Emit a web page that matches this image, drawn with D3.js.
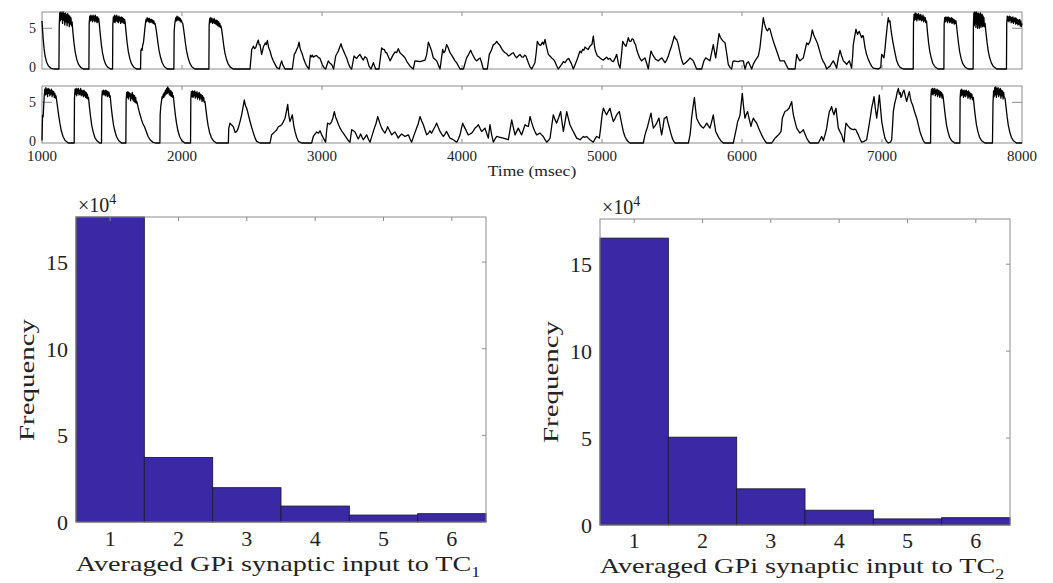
<!DOCTYPE html>
<html><head><meta charset="utf-8">
<script src="https://cdn.jsdelivr.net/npm/d3@7/dist/d3.min.js"></script>
<style>body{margin:0;background:#fff}svg{display:block}text{font-family:"Liberation Serif","Times New Roman",serif;fill:#222}</style>
</head><body><svg id="c" width="1053" height="583"></svg>
<script>
// ---- data ----
const timeTicks = [1000,2000,3000,4000,5000,6000,7000,8000];
const traceYTicks = [0,5];
const TRACE1 = [[1000,5.9],[1004,4.8],[1009,3.6],[1015,2.5],[1022,1.6],[1032,0.9],[1045,0.4],[1062,0.12],[1085,0],
[1121,0],[1123,5.4],[1127,6.9],[1131,5.9],[1135,7.0],[1139,6.1],[1143,6.9],[1147,5.6],[1151,7.0],[1155,6.0],[1159,6.8],[1163,5.4],[1167,6.9],[1171,5.8],[1175,6.7],[1179,5.3],[1183,6.8],[1187,5.7],[1191,6.6],[1195,5.2],[1199,6.5],[1203,5.5],[1207,6.3],[1211,5.3],[1215,5.8],
[1222,4.3],[1230,3.0],[1238,2.0],[1248,1.2],[1260,0.6],[1275,0.22],[1295,0],
[1335,0],[1337,5.6],[1341,6.5],[1345,5.9],[1349,6.6],[1353,6.0],[1357,6.5],[1361,5.8],[1365,6.6],[1369,6.0],[1373,6.5],[1377,5.8],[1381,6.6],[1385,5.9],[1389,6.4],[1393,5.7],[1397,6.4],[1401,5.8],[1405,6.2],[1409,5.6],
[1416,4.3],[1424,3.0],[1432,2.0],[1442,1.2],[1454,0.6],[1469,0.22],[1490,0],
[1504,0],[1506,5.5],[1510,6.4],[1514,5.8],[1518,6.6],[1522,5.7],[1526,6.5],[1530,5.9],[1534,6.6],[1538,5.8],[1542,6.4],[1546,5.7],[1550,6.5],[1554,5.9],[1558,6.3],[1562,5.6],[1566,6.4],[1570,5.8],[1574,6.3],[1578,5.7],[1582,6.2],[1586,5.6],[1590,6.1],[1594,5.7],
[1601,4.4],[1609,3.1],[1617,2.1],[1627,1.3],[1639,0.65],[1654,0.25],[1675,0],
[1704,0],[1706,2.2],[1711,2.5],[1715,2.3],[1719,2.9],[1723,3.1],[1727,3.6],[1731,4.3],[1735,5.0],[1739,5.6],[1743,6.1],[1747,5.8],[1751,6.3],[1755,5.9],[1759,6.2],[1763,5.8],[1767,6.2],[1771,5.7],[1775,6.1],[1779,5.8],[1783,6.1],[1787,5.7],[1791,6.0],[1795,5.6],[1799,5.9],[1803,5.5],[1808,5.6],[1813,5.1],
[1820,4.3],[1828,3.2],[1836,2.3],[1846,1.5],[1858,0.8],[1873,0.3],[1895,0],
[1942,0],[1944,4.6],[1948,5.5],[1952,5.9],[1956,6.3],[1960,5.9],[1964,6.5],[1968,6.0],[1972,6.4],[1976,6.0],[1980,6.3],[1984,5.9],[1988,6.2],[1992,5.8],[1996,6.0],[2000,5.7],[2005,5.6],[2010,5.1],
[2017,4.2],[2025,3.1],[2033,2.2],[2043,1.4],[2055,0.75],[2070,0.28],[2092,0],
[2192,0],[2194,5.4],[2198,6.2],[2202,5.7],[2206,6.3],[2210,5.8],[2214,6.2],[2218,5.6],[2222,6.1],[2226,5.7],[2230,6.2],[2234,5.6],[2238,6.0],[2242,5.5],[2246,6.0],[2250,5.4],[2254,5.9],[2258,5.3],[2262,5.8],[2266,5.2],[2270,5.6],[2274,5.1],[2278,5.3],[2283,4.9],
[2290,4.0],[2298,2.9],[2306,2.0],[2316,1.3],[2328,0.7],[2343,0.26],[2365,0],
[2486,0],[2498,2.4],[2510,2.8],[2518,2.5],[2526,2.6],[2535,3.1],[2545,3.55],[2551,3.0],[2557,3.0],[2569,1.8],[2576,2.3],[2583,2.8],[2595,3.2],[2602,3.0],[2610,3.5],[2619,2.6],[2629,2.2],[2640,1.5],[2652,1.0],[2664,0.6],[2676,0.2],[2695,0],[2704,0.6],[2712,1.0],[2720,0.5],[2736,0],
[2788,0],[2802,1.8],[2810,2.0],[2819,2.4],[2828,2.7],[2836,3.3],[2843,2.6],[2850,2.2],[2858,1.9],[2867,1.36],[2879,0.8],[2891,0.35],[2907,0],
[2917,1.7],[2925,1.5],[2932,1.7],[2938,1.45],[2950,1.6],[2962,1.65],[2975,1.4],[2986,1.3],[3002,0.56],[3015,0.15],[3026,0],
[3045,1.0],[3057,0.7],[3069,0.56],[3083,0],
[3098,1.6],[3110,2.0],[3117,2.2],[3125,2.6],[3136,3.1],[3144,2.6],[3152,2.3],[3164,1.8],[3176,1.36],[3188,0.7],[3200,0.2],[3212,0],
[3229,1.6],[3240,1.4],[3248,1.3],[3260,1.6],[3271,1.8],[3283,1.4],[3295,1.1],[3307,1.5],[3319,1.36],[3336,0.35],[3350,0],[3367,0.77],[3383,0],[3407,0],
[3426,2.6],[3436,2.4],[3445,2.4],[3455,2.0],[3462,2.0],[3474,1.5],[3486,1.0],[3498,1.4],[3510,1.8],[3522,2.1],[3533,2.0],[3545,2.5],[3557,2.0],[3569,1.8],[3581,1.6],[3593,1.36],[3610,0.8],[3629,0.35],[3652,0],
[3664,1.0],[3682,0.95],[3700,0.9],[3718,1.0],[3736,1.1],[3748,1.8],[3760,3.3],[3771,2.8],[3783,2.2],[3795,1.36],[3807,1.2],[3819,1.0],[3831,0.5],[3843,0],
[3862,2.4],[3870,2.0],[3879,2.2],[3890,3.0],[3902,2.6],[3914,2.0],[3926,1.7],[3938,1.36],[3950,1.0],[3962,0.77],[3986,0],[4010,0],
[4033,1.36],[4048,1.8],[4062,2.3],[4072,1.9],[4081,1.6],[4093,1.2],[4105,1.0],[4117,1.2],[4129,1.36],[4140,0.8],[4152,0],[4181,0],
[4195,1.8],[4210,2.3],[4224,3.0],[4236,3.1],[4248,3.4],[4260,3.1],[4271,2.9],[4283,2.5],[4295,2.2],[4307,2.0],[4319,1.9],[4331,1.6],[4343,1.7],[4355,1.9],[4367,2.0],[4379,1.6],[4390,1.36],[4402,1.6],[4414,1.8],[4426,1.5],[4438,1.45],[4448,1.7],[4457,1.6],[4465,1.2],[4474,0.77],[4485,0.3],[4498,0],
[4521,0.77],[4530,2.0],[4538,3.4],[4550,3.0],[4562,2.9],[4575,3.3],[4583,3.0],[4593,3.64],[4605,2.6],[4617,1.8],[4628,1.6],[4640,1.36],[4652,1.2],[4664,0.9],[4676,0.4],[4688,0],
[4700,0.3],[4712,0.56],[4724,0.9],[4736,0.77],[4752,1.18],[4762,1.3],[4771,1.0],[4783,0.6],[4795,0],
[4807,0.5],[4819,1.0],[4831,1.6],[4843,2.2],[4852,2.0],[4862,2.4],[4870,2.3],[4879,2.7],[4890,2.5],[4902,2.4],[4910,2.7],[4919,2.9],[4928,3.0],[4938,4.05],[4945,3.0],[4950,2.4],[4958,2.0],[4967,1.6],[4977,1.5],[4986,1.36],[4998,1.2],[5010,1.1],[5022,1.3],[5033,1.45],[5045,1.2],[5057,1.3],[5069,1.0],[5081,0.9],[5093,1.3],[5105,1.8],[5118,0.6],[5129,0.1],[5138,1.5],[5148,3.4],[5160,3.0],[5171,2.8],[5180,3.3],[5188,3.85],[5197,3.4],[5207,3.4],[5215,3.7],[5224,3.64],[5232,3.2],[5240,3.0],[5249,2.3],[5259,1.8],[5271,1.3],[5283,1.0],[5295,1.2],[5307,1.36],[5319,0.7],[5331,0],
[5340,1.2],[5350,2.2],[5358,1.9],[5367,1.6],[5375,1.4],[5383,1.18],[5392,1.1],[5402,1.0],[5414,1.2],[5426,1.36],[5438,1.1],[5450,0.77],[5462,1.1],[5474,1.6],[5484,2.2],[5493,2.6],[5505,3.3],[5517,4.05],[5525,3.7],[5533,3.64],[5540,3.3],[5545,3.0],[5553,2.3],[5562,1.6],[5571,1.0],[5581,0.56],[5593,0.7],[5605,0.9],[5617,1.1],[5629,1.36],[5640,1.2],[5652,1.0],[5664,0.5],[5676,0],[5712,0],
[5728,1.0],[5741,1.36],[5756,1.2],[5771,1.0],[5783,2.0],[5795,3.0],[5803,2.2],[5812,1.36],[5824,2.8],[5836,4.35],[5845,3.9],[5855,3.64],[5866,3.4],[5879,3.22],[5890,2.0],[5902,0.56],[5914,0.2],[5926,0],
[5935,0.9],[5945,1.0],[5960,0.95],[5974,0.9],[5990,1.0],[6010,1.0],[6016,0.4],[6022,0],[6034,0.7],[6045,0.9],[6057,0.5],[6069,0],[6081,0.6],[6093,1.0],[6105,1.3],[6117,1.6],[6128,2.6],[6136,3.85],[6145,5.2],[6152,6.3],[6160,5.6],[6169,5.1],[6176,4.8],[6183,4.7],[6192,5.0],[6200,4.9],[6212,4.1],[6224,3.4],[6236,2.8],[6248,2.2],[6260,1.6],[6271,1.0],[6285,1.0],[6302,1.0],[6316,0.5],[6331,0],[6379,0],
[6391,1.8],[6403,1.3],[6414,1.0],[6426,1.2],[6438,1.36],[6450,2.3],[6462,3.2],[6474,3.0],[6486,3.4],[6494,4.0],[6502,4.8],[6512,4.2],[6521,3.85],[6530,3.5],[6540,3.1],[6555,2.2],[6569,1.36],[6581,0.9],[6593,0.56],[6605,0],
[6617,0.2],[6629,0.35],[6640,0.7],[6652,1.0],[6664,0.6],[6676,0.1],[6688,1.36],[6700,2.3],[6712,1.6],[6724,1.0],[6736,0.8],[6748,0.56],[6758,0.8],[6767,1.0],[6783,0.1],[6790,1.5],[6795,3.0],[6805,4.0],[6814,4.9],[6820,4.5],[6826,4.26],[6832,4.5],[6838,4.6],[6846,4.2],[6855,3.85],[6861,4.1],[6867,4.05],[6873,3.3],[6879,2.6],[6890,1.8],[6902,1.18],[6915,0.7],[6925,0.35],[6938,0.1],[6974,0],
[6991,0.2],[6995,1.2],[6998,1.8],[7006,1.6],[7014,1.36],[7022,2.6],[7029,3.85],[7037,5.2],[7045,6.3],[7051,5.8],[7057,5.9],[7063,5.0],[7069,4.26],[7077,3.4],[7086,2.6],[7095,1.8],[7105,1.0],[7117,0.5],[7129,0.2],[7152,0],
[7223,0],[7225,5.6],[7229,6.7],[7233,6.0],[7237,6.9],[7241,6.1],[7245,6.8],[7249,5.9],[7253,6.7],[7257,6.2],[7261,6.8],[7265,6.0],[7269,6.6],[7273,6.1],[7277,6.7],[7281,5.9],[7285,6.5],[7289,6.0],[7293,6.6],[7297,5.8],[7301,6.4],[7305,5.9],[7309,6.3],[7313,5.7],[7318,5.9],
[7325,4.5],[7333,3.2],[7341,2.2],[7351,1.4],[7363,0.7],[7378,0.28],[7400,0],
[7442,0],[7444,5.5],[7448,6.3],[7452,5.8],[7456,6.4],[7460,5.9],[7464,6.3],[7468,5.7],[7472,6.4],[7476,5.9],[7480,6.3],[7484,5.7],[7488,6.2],[7492,5.8],[7496,6.3],[7500,5.6],[7504,6.2],[7508,5.7],[7512,6.1],[7516,5.5],[7520,6.0],[7524,5.6],[7528,5.9],[7532,5.4],
[7539,4.3],[7547,3.1],[7555,2.1],[7565,1.3],[7577,0.65],[7592,0.25],[7615,0],
[7651,0],[7653,5.5],[7656,6.9],[7659,5.3],[7662,7.0],[7665,5.6],[7668,6.9],[7671,5.1],[7674,7.0],[7677,5.5],[7680,6.8],[7683,5.0],[7686,6.9],[7689,5.4],[7692,6.8],[7695,5.0],[7698,6.7],[7701,5.3],[7704,6.9],[7707,5.1],[7710,6.6],[7713,5.4],[7716,6.7],[7719,5.2],[7722,6.5],[7725,5.3],[7728,6.3],[7731,5.2],[7736,5.6],
[7743,4.4],[7751,3.2],[7759,2.2],[7769,1.4],[7781,0.75],[7796,0.3],[7820,0],
[7889,0],[7891,5.6],[7895,6.5],[7899,5.9],[7903,6.4],[7907,5.8],[7911,6.5],[7915,6.0],[7919,6.4],[7923,5.7],[7927,6.3],[7931,5.8],[7935,6.4],[7939,5.6],[7943,6.2],[7947,5.8],[7951,6.3],[7955,5.5],[7959,6.2],[7963,5.6],[7967,6.1],[7971,5.4],[7975,6.0],[7979,5.5],[7983,6.1],[7987,5.3],[7991,5.9],[7995,5.2],[8000,5.6]];
const TRACE2 = [[1000,0.3],[1002,2.0],[1004,3.4],[1008,3.2],[1012,4.5],[1016,5.8],[1020,6.6],[1024,5.9],[1028,6.8],[1032,6.0],[1036,6.6],[1040,5.7],[1044,6.7],[1048,6.1],[1052,6.6],[1056,5.8],[1060,6.5],[1064,6.0],[1068,6.6],[1072,5.7],[1076,6.4],[1080,5.9],[1084,6.3],[1088,5.6],[1092,6.1],[1096,5.5],[1100,5.8],[1105,5.2],
[1112,4.3],[1120,3.3],[1128,2.4],[1138,1.5],[1150,0.8],[1165,0.3],[1188,0],
[1230,0],[1232,5.5],[1236,6.6],[1240,6.0],[1244,6.7],[1248,5.8],[1252,6.6],[1256,6.1],[1260,6.7],[1264,5.9],[1268,6.5],[1272,6.0],[1276,6.7],[1280,5.8],[1284,6.5],[1288,5.9],[1292,6.4],[1296,5.7],[1300,6.5],[1304,5.8],[1308,6.3],[1312,5.6],[1316,6.2],[1320,5.5],[1324,6.0],[1328,5.4],[1332,5.6],
[1339,4.4],[1347,3.2],[1355,2.2],[1365,1.4],[1377,0.7],[1392,0.28],[1412,0],
[1425,0],[1427,5.5],[1431,6.4],[1435,5.9],[1439,6.5],[1443,6.0],[1447,6.4],[1451,5.8],[1455,6.5],[1459,5.9],[1463,6.4],[1467,5.7],[1471,6.3],[1475,5.8],[1479,6.2],[1483,5.6],[1487,5.8],
[1494,4.5],[1502,3.3],[1510,2.3],[1520,1.5],[1532,0.8],[1547,0.3],[1568,0],
[1599,0],[1601,5.3],[1605,6.2],[1609,5.6],[1613,6.3],[1617,5.4],[1621,6.2],[1625,5.7],[1629,6.1],[1633,5.2],[1637,6.0],[1641,5.5],[1645,6.2],[1649,5.3],[1653,5.9],[1657,5.1],[1661,5.8],[1665,5.0],[1669,5.6],[1673,4.9],[1677,5.1],
[1684,4.6],[1692,4.0],[1700,3.5],[1710,2.9],[1720,2.4],[1732,2.0],[1745,1.4],[1758,0.8],[1772,0.4],[1790,0.12],[1810,0],
[1842,0],[1844,3.5],[1849,4.6],[1854,5.2],[1858,5.7],[1862,5.5],[1866,6.0],[1870,5.6],[1874,6.2],[1878,5.8],[1882,6.5],[1886,6.0],[1890,6.7],[1894,6.1],[1898,6.9],[1902,6.2],[1906,6.7],[1910,5.9],[1914,6.5],[1918,5.8],[1922,6.4],[1926,5.7],[1930,6.2],[1934,5.6],[1938,5.8],
[1945,4.6],[1953,3.4],[1961,2.4],[1971,1.5],[1983,0.8],[1998,0.3],[2020,0],
[2061,0],[2063,5.4],[2067,6.3],[2071,5.7],[2075,6.4],[2079,5.6],[2083,6.3],[2087,5.8],[2091,6.4],[2095,5.5],[2099,6.2],[2103,5.7],[2107,6.3],[2111,5.4],[2115,6.1],[2119,5.6],[2123,6.2],[2127,5.3],[2131,6.0],[2135,5.5],[2139,5.9],[2143,5.1],[2147,5.8],[2151,5.2],[2155,5.6],[2159,5.0],[2164,5.1],
[2171,4.1],[2179,3.0],[2187,2.1],[2197,1.3],[2209,0.7],[2224,0.28],[2245,0],
[2331,0],[2334,1.8],[2343,2.44],[2355,2.2],[2367,2.0],[2379,1.3],[2390,1.4],[2402,1.83],[2414,2.6],[2426,3.46],[2436,4.4],[2445,5.28],[2453,4.6],[2462,4.27],[2468,3.9],[2474,3.46],[2486,2.64],[2498,1.9],[2510,1.22],[2522,0.6],[2533,0.2],[2557,0],[2629,0],
[2640,1.0],[2652,1.2],[2664,1.4],[2676,1.6],[2688,2.0],[2700,2.1],[2712,2.24],[2724,2.6],[2736,3.05],[2745,3.8],[2755,4.75],[2763,3.4],[2771,2.64],[2779,3.0],[2788,3.46],[2797,2.3],[2807,1.42],[2819,0.7],[2831,0.2],[2855,0],[2926,0],
[2938,0.8],[2950,1.1],[2962,1.35],[2974,1.2],[2986,1.5],[2998,1.0],[3010,0.6],[3026,0.1],[3033,1.5],[3040,2.44],[3055,2.3],[3069,2.64],[3078,3.1],[3088,3.86],[3097,3.2],[3105,2.85],[3117,2.3],[3129,1.83],[3140,1.5],[3152,1.22],[3164,0.9],[3176,0.6],[3188,0.3],[3200,0.1],
[3212,1.63],[3224,1.5],[3236,1.35],[3248,0.9],[3259,0.5],[3268,0.8],[3276,1.1],[3286,0.7],[3295,0.4],[3307,0.7],[3319,1.0],[3331,0.5],[3343,0.1],[3359,1.0],[3374,1.83],[3386,2.4],[3398,3.25],[3412,2.5],[3426,1.83],[3438,1.5],[3450,1.22],[3460,1.6],[3469,2.0],[3483,1.5],[3498,1.0],[3510,1.2],[3521,1.35],[3533,1.0],[3545,0.6],[3557,0.9],[3569,1.1],[3581,0.95],[3593,0.8],[3605,0.9],[3617,1.0],[3629,0.5],[3640,0.1],[3658,1.0],[3676,1.83],[3688,2.4],[3700,3.25],[3712,2.7],[3724,2.24],[3736,1.6],[3748,1.0],[3760,1.2],[3771,1.5],[3783,1.2],[3795,1.63],[3807,2.0],[3819,2.44],[3831,1.9],[3843,1.42],[3855,1.1],[3867,0.8],[3879,1.1],[3890,1.42],[3902,1.0],[3914,0.6],[3926,0.5],[3938,0.4],[3950,0.25],[3962,0.1],[3974,0.5],[3986,1.0],[3996,1.8],[4005,2.44],[4013,2.1],[4021,1.83],[4033,1.4],[4045,1.0],[4057,1.1],[4069,1.22],[4081,1.5],[4093,1.83],[4105,2.0],[4117,2.24],[4129,1.8],[4140,1.42],[4152,1.6],[4164,1.83],[4176,1.2],[4188,0.6],[4194,1.5],[4200,2.24],[4212,1.0],[4224,0.1],[4236,0.5],[4248,0.8],[4272,0.7],[4295,0.6],[4313,0.5],[4331,0.4],[4343,1.6],[4355,2.85],[4367,1.9],[4379,1.0],[4390,1.4],[4402,1.83],[4414,1.4],[4426,1.0],[4438,1.6],[4450,2.24],[4462,2.1],[4474,2.03],[4480,2.6],[4486,3.25],[4498,2.5],[4510,1.83],[4521,1.4],[4533,1.0],[4545,1.1],[4557,1.22],[4569,1.0],[4581,0.8],[4593,0.4],[4605,0.1],[4617,0.3],[4629,0.6],[4640,2.0],[4652,3.46],[4664,2.9],[4676,2.44],[4690,3.1],[4705,3.86],[4714,2.6],[4724,1.42],[4736,2.6],[4748,3.86],[4760,3.0],[4771,2.24],[4783,1.8],[4795,1.42],[4807,1.0],[4819,0.6],[4831,0.5],[4843,0.4],[4855,0.6],[4867,0.8],[4879,0.7],[4890,0.8],[4902,0.6],[4914,0.4],[4926,0.25],[4938,0.1],[4950,0.5],[4962,0.8],[4972,0.7],[4981,0.6],[4990,1.8],[4998,3.05],[5004,3.8],[5010,4.27],[5022,3.8],[5033,3.46],[5045,3.9],[5057,4.27],[5069,3.4],[5081,2.64],[5093,3.0],[5105,3.46],[5115,3.7],[5124,3.86],[5138,2.6],[5152,1.42],[5164,0.8],[5176,0.4],[5188,0.15],[5200,0],[5295,0],
[5307,1.0],[5316,1.5],[5326,2.03],[5338,2.9],[5350,3.66],[5358,2.7],[5367,1.83],[5379,2.1],[5391,2.44],[5399,2.8],[5407,3.05],[5416,2.0],[5426,1.0],[5436,2.0],[5445,3.05],[5454,3.1],[5462,3.25],[5470,2.6],[5479,2.03],[5490,1.3],[5502,0.6],[5511,0.25],[5521,0],[5617,0],
[5629,1.0],[5635,2.0],[5640,3.05],[5650,4.4],[5660,5.57],[5668,4.2],[5676,3.05],[5688,2.6],[5700,2.24],[5712,2.0],[5724,1.83],[5736,2.1],[5748,2.44],[5760,2.1],[5771,1.83],[5783,2.6],[5795,3.46],[5803,2.4],[5812,1.42],[5824,1.0],[5836,0.6],[5850,0.25],[5867,0],[5938,0],
[5950,1.0],[5960,1.8],[5969,2.64],[5978,3.0],[5986,3.46],[5994,4.8],[6002,6.1],[6011,4.5],[6021,3.05],[6030,3.5],[6040,3.86],[6052,2.9],[6064,2.03],[6072,2.6],[6081,3.05],[6093,2.7],[6105,2.44],[6117,1.9],[6129,1.42],[6140,1.0],[6152,0.6],[6164,0.25],[6176,0],[6212,0],
[6224,0.3],[6236,0.6],[6248,0.8],[6260,1.0],[6270,1.2],[6279,1.42],[6284,2.3],[6288,3.05],[6298,3.5],[6307,3.86],[6320,4.0],[6336,4.27],[6346,4.7],[6355,5.08],[6361,4.2],[6367,3.46],[6379,2.6],[6391,1.83],[6403,1.5],[6414,1.22],[6426,1.4],[6438,1.63],[6450,1.1],[6462,0.6],[6474,0.25],[6486,0],[6545,0],
[6557,0.4],[6569,0.8],[6581,0.3],[6593,1.0],[6605,1.83],[6614,2.9],[6624,3.86],[6632,4.1],[6640,4.47],[6648,3.9],[6657,3.46],[6664,3.9],[6671,4.27],[6680,3.0],[6688,1.83],[6700,1.4],[6712,1.0],[6720,0.5],[6729,0.1],[6736,1.5],[6743,2.44],[6757,2.1],[6771,1.83],[6783,1.7],[6795,1.63],[6805,1.7],[6814,1.63],[6822,1.3],[6831,1.0],[6843,0.5],[6855,0.1],[6872,0.2],[6890,0.4],[6900,1.4],[6910,2.44],[6918,3.3],[6926,4.27],[6935,5.0],[6943,5.69],[6952,4.3],[6962,3.05],[6972,4.4],[6981,5.89],[6990,4.2],[6998,2.64],[7010,1.5],[7021,0.6],[7033,0.2],[7045,0],
[7060,0.1],[7069,0.4],[7075,2.0],[7081,3.86],[7090,4.8],[7100,5.49],[7108,6.2],[7117,6.71],[7124,6.0],[7130,6.2],[7135,5.6],[7140,5.69],[7148,6.2],[7157,6.5],[7166,5.8],[7176,5.08],[7185,5.7],[7195,6.3],[7202,5.6],[7210,5.0],[7219,4.67],[7233,3.8],[7248,3.05],[7260,2.2],[7271,1.42],[7283,0.8],[7295,0.3],[7307,0],
[7347,0],[7349,5.6],[7353,6.6],[7357,6.0],[7361,6.7],[7365,5.9],[7369,6.6],[7373,6.1],[7377,6.7],[7381,5.8],[7385,6.5],[7389,6.0],[7393,6.6],[7397,5.7],[7401,6.5],[7405,5.9],[7409,6.4],[7413,5.6],[7417,6.3],[7421,5.8],[7425,6.2],[7429,5.5],[7433,6.0],[7438,5.5],
[7445,4.4],[7453,3.2],[7461,2.2],[7471,1.4],[7483,0.7],[7498,0.28],[7520,0],
[7556,0],[7558,5.5],[7562,6.5],[7566,5.8],[7570,6.6],[7574,5.9],[7578,6.4],[7582,5.6],[7586,6.5],[7590,5.8],[7594,6.4],[7598,5.7],[7602,6.5],[7606,5.9],[7610,6.3],[7614,5.5],[7618,6.4],[7622,5.7],[7626,6.2],[7630,5.4],[7634,6.1],[7638,5.6],[7642,6.0],[7646,5.3],[7652,5.6],
[7659,4.4],[7667,3.2],[7675,2.2],[7685,1.4],[7697,0.7],[7712,0.28],[7735,0],
[7789,0],[7791,2.5],[7793,5.0],[7797,6.4],[7801,5.7],[7805,6.8],[7809,5.9],[7813,6.9],[7817,5.6],[7821,6.7],[7825,6.0],[7829,6.8],[7833,5.7],[7837,6.6],[7841,5.9],[7845,6.7],[7849,5.5],[7853,6.5],[7857,5.8],[7861,6.4],[7865,5.4],[7869,6.2],[7873,5.6],[7879,5.5],
[7886,4.4],[7894,3.2],[7902,2.2],[7912,1.4],[7924,0.7],[7939,0.28],[7960,0],[8000,0]];
const binCenters = [1,2,3,4,5,6];
const HIST1 = [17.6,3.72,1.98,0.92,0.40,0.48];   // ×10^4
const HIST2 = [16.5,5.05,2.08,0.85,0.35,0.42];   // ×10^4
const histYTicks = [0,5,10,15];
const xLabel1 = ["Averaged GPi synaptic input to TC","1"];
const xLabel2 = ["Averaged GPi synaptic input to TC","2"];
const yLabel = "Frequency";
const timeLabel = "Time (msec)";

// ---- drawing ----
const svg = d3.select("#c");
const AX = "#8c8c8c";

function stretch(sel, cx, target){
  const w = sel.node().getBBox().width;
  const s = target / w;
  sel.attr("transform", `translate(${cx},0) scale(${s},1) translate(${-cx},0)`);
}

function tracePanel(data, top, bottom, showX){
  const x = d3.scaleLinear().domain([1000,8000]).range([42,1022]);
  const y = d3.scaleLinear().domain([0,7]).range([bottom, top]);
  const g = svg.append("g");
  g.append("rect").attr("x",42).attr("y",top).attr("width",980).attr("height",bottom-top)
    .attr("fill","none").attr("stroke",AX).attr("stroke-width",1);
  const inner = timeTicks.slice(1,-1);
  g.selectAll(".tb").data(inner).enter().append("line")
    .attr("x1",d=>x(d)).attr("x2",d=>x(d)).attr("y1",bottom).attr("y2",bottom-4).attr("stroke",AX);
  g.selectAll(".tt").data(inner).enter().append("line")
    .attr("x1",d=>x(d)).attr("x2",d=>x(d)).attr("y1",top).attr("y2",top+4).attr("stroke",AX);
  g.selectAll(".yl").data(traceYTicks.slice(1)).enter().append("line")
    .attr("x1",42).attr("x2",52).attr("y1",d=>y(d)).attr("y2",d=>y(d)).attr("stroke",AX);
  g.selectAll(".yr").data(traceYTicks.slice(1)).enter().append("line")
    .attr("x1",1012).attr("x2",1022).attr("y1",d=>y(d)).attr("y2",d=>y(d)).attr("stroke",AX);
  const line = d3.line().x(d=>x(d[0])).y(d=>y(d[1]));
  g.append("path").datum(data).attr("d",line).attr("fill","none")
    .attr("stroke","#000").attr("stroke-width",1.3).attr("stroke-linejoin","round");
  g.selectAll(".ytl").data(traceYTicks).enter().append("text")
    .attr("x",36).attr("y",d=>y(d)).attr("dy",d=>d===0?"0.2em":"0.36em").attr("text-anchor","end")
    .attr("font-size",14).text(d=>d);
  if(showX){
    g.selectAll(".xtl").data(timeTicks).enter().append("text")
      .attr("x",d=>x(d)).attr("y",161).attr("text-anchor","middle")
      .attr("font-size",15).text(d=>d);
    const t = g.append("text").attr("x",532).attr("y",176).attr("text-anchor","middle")
      .attr("font-size",14).text(timeLabel);
    stretch(t,532,89);
  }
}
tracePanel(TRACE1,12,69,false);
tracePanel(TRACE2,86,143,true);

function histPanel(vals, L, R, T, B, lab, ylabX, ylabY, tickBase){
  const x = d3.scaleLinear().domain([0.5,6.5]).range([L,R]);
  const y = d3.scaleLinear().domain([0,17.6]).range([B,T]);
  const g = svg.append("g");
  g.selectAll("rect.bar").data(binCenters).enter().append("rect")
    .attr("x",d=>x(d-0.5)).attr("width",d=>x(d+0.5)-x(d-0.5))
    .attr("y",(d,i)=>y(vals[i])).attr("height",(d,i)=>B-y(vals[i]))
    .attr("fill","#3b28a5").attr("stroke","#1c1a3a").attr("stroke-width",0.9);
  g.append("rect").attr("x",L).attr("y",T).attr("width",R-L).attr("height",B-T)
    .attr("fill","none").attr("stroke",AX).attr("stroke-width",1);
  g.selectAll(".tx").data(binCenters).enter().append("line")
    .attr("x1",d=>x(d)).attr("x2",d=>x(d)).attr("y1",T).attr("y2",T+4).attr("stroke",AX);
  g.selectAll(".ty").data(histYTicks.slice(1)).enter().append("line")
    .attr("x1",R).attr("x2",R-4).attr("y1",d=>y(d)).attr("y2",d=>y(d)).attr("stroke",AX);
  g.selectAll(".ytl").data(histYTicks).enter().append("text")
    .attr("x",L-8).attr("y",d=>y(d)).attr("dy","0.36em").attr("text-anchor","end")
    .attr("font-size",22).text(d=>d);
  g.selectAll(".xtl").data(binCenters).enter().append("text")
    .attr("x",d=>x(d)).attr("y",tickBase).attr("text-anchor","middle")
    .attr("font-size",22).text(d=>d);
  const m = g.append("text").attr("x",L+2).attr("y",T-5).attr("font-size",20);
  m.append("tspan").text("\u00d710");
  m.append("tspan").attr("dy",-8).attr("font-size",14).text("4");
  const cx = (L+R)/2 - 3;
  const xl = g.append("text").attr("x",cx).attr("y",tickBase+25).attr("text-anchor","middle").attr("font-size",22);
  xl.append("tspan").text(lab[0]);
  xl.append("tspan").attr("dy",6).attr("font-size",14).text(lab[1]);
  stretch(xl,cx,405);
  const yl = g.append("text").attr("text-anchor","middle").attr("font-size",20).text(yLabel);
  const w = yl.node().getBBox().width;
  yl.attr("transform",`translate(${ylabX},${ylabY}) rotate(-90) scale(${122/w},1)`);
}
histPanel(HIST1,76,486,217,522,xLabel1,34,380,546);
histPanel(HIST2,600,1010,219,525,xLabel2,558,382,548);
</script></body></html>
